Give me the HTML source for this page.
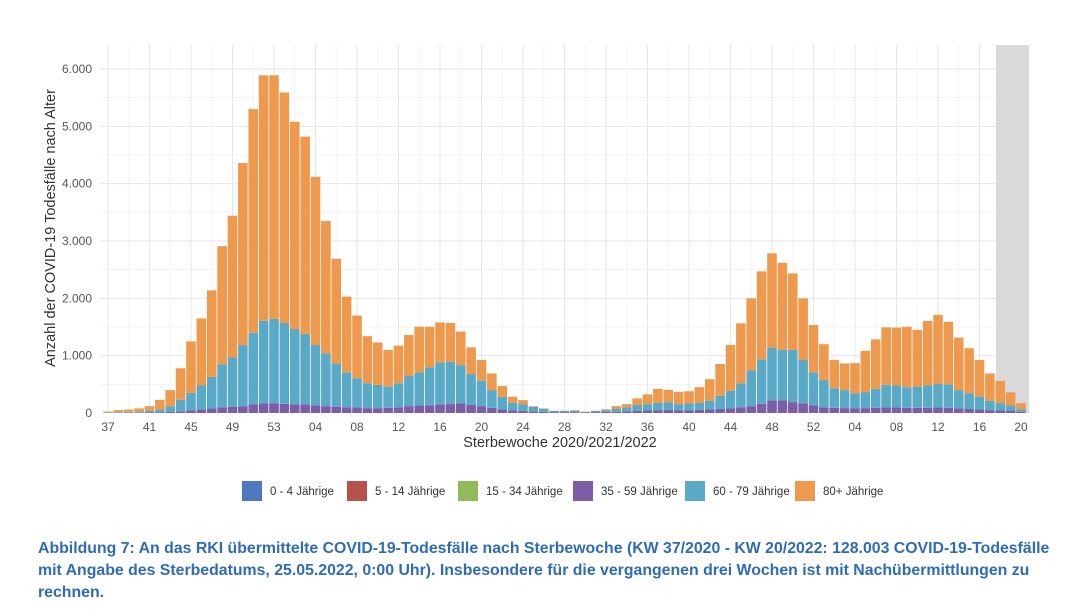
<!DOCTYPE html>
<html><head><meta charset="utf-8">
<style>
body{margin:0;background:#fff;width:1089px;height:614px;overflow:hidden;font-family:"Liberation Sans",sans-serif;}
#cap{position:absolute;left:38px;top:538px;width:1018px;color:#2F6CB5;font-weight:bold;font-size:15.85px;line-height:22px;}
</style></head><body>
<svg id="chart" width="1089" height="530" style="position:absolute;left:0;top:0">
</svg>
<div id="cap">Abbildung 7: An das RKI übermittelte COVID-19-Todesfälle nach Sterbewoche (KW 37/2020 - KW 20/2022: 128.003 COVID-19-Todesfälle mit Angabe des Sterbedatums, 25.05.2022, 0:00 Uhr). Insbesondere für die vergangenen drei Wochen ist mit Nachübermittlungen zu rechnen.</div>
<script>
const tickLabels=["37","41","45","49","53","04","08","12","16","20","24","28","32","36","40","44","48","52","04","08","12","16","20"];
const yTicks=[0,1000,2000,3000,4000,5000,6000];
const yTickLabels=["0","1.000","2.000","3.000","4.000","5.000","6.000"];
// cumulative totals per week (37/2020 .. 20/2022)
const totals=[25,50,60,80,120,230,400,780,1250,1650,2140,2910,3440,4360,5300,5890,5890,
5590,5080,4820,4120,3350,2690,2030,1700,1340,1230,1100,1175,1360,1505,1505,1580,1570,1420,1145,925,690,470,285,225,120,80,40,40,50,25,40,65,120,155,255,325,420,405,370,380,450,590,855,1185,1565,2000,2470,2785,2620,2435,2000,1535,
1200,925,865,870,1085,1285,1495,1490,1505,1450,1605,1710,1590,1315,1130,925,690,560,360,170];
// cumulative up to top of 60-79
const blueTop=[10,15,20,25,40,60,120,230,350,480,630,850,970,1185,1400,1610,1645,
1570,1465,1380,1185,1040,865,710,605,520,490,460,520,645,710,795,885,890,835,680,565,400,285,180,155,110,70,35,35,40,20,35,50,70,100,140,155,175,190,155,165,175,215,300,390,520,740,935,1140,1100,1100,925,710,
575,430,400,345,365,420,490,480,450,460,480,505,500,400,345,285,210,173,130,65];
// cumulative up to top of 35-59
const purpleTop=[2,3,4,5,8,12,20,30,45,60,80,95,105,120,150,165,170,
160,150,150,130,120,110,100,95,85,85,90,100,120,130,135,150,155,165,140,120,90,60,45,40,25,20,15,15,15,12,15,18,22,28,40,45,50,55,50,50,55,60,70,80,100,120,160,220,220,190,170,130,
100,90,85,85,85,90,95,95,90,90,90,95,90,80,70,60,50,45,35,20];
const ages=["0 - 4 Jährige","5 - 14 Jährige","15 - 34 Jährige","35 - 59 Jährige","60 - 79 Jährige","80+ Jährige"];
const colors=["#4C79C0","#B5534B","#93BA5A","#7B5EA7","#5AAAC7","#EE9A4E"];

const NS="http://www.w3.org/2000/svg";
const svg=document.getElementById('chart');
function mk(t,a,p){const e=document.createElementNS(NS,t);for(const k in a)e.setAttribute(k,a[k]);(p||svg).appendChild(e);return e;}
const x0=108,step=10.375,yBase=413,yScale=344/6000;
const X=i=>x0+i*step;
const Y=v=>yBase-v*yScale;
const grid=mk('g',{});


for(let v=500;v<=6250;v+=500){mk('line',{x1:100,x2:1029,y1:Y(v),y2:Y(v),stroke:v%1000?'#f3f3f3':'#e6e6e6','stroke-width':1},grid);}
for(let i=0;i<totals.length;i+=2){mk('line',{x1:X(i),x2:X(i),y1:45,y2:413,stroke:i%4?'#f3f3f3':'#e6e6e6'},grid);}
const shade=mk('rect',{x:996,y:45,width:33,height:368,fill:'#d9d9d9'});


const bars=mk('g',{});


for(let i=0;i<totals.length;i++){
  const segs=[[0,purpleTop[i],3],[purpleTop[i],blueTop[i],4],[blueTop[i],totals[i],5]];
  for(const [a,b,c] of segs){
    const r=mk('rect',{x:X(i)-4.8,width:9.6,y:Y(b),height:Math.max(0,Y(a)-Y(b)),fill:colors[c]},bars);
    
    
  }
}
yTicks.forEach((v,k)=>{const t=mk('text',{x:92,y:Y(v)+4,'text-anchor':'end','font-size':12,fill:'#555'});t.textContent=yTickLabels[k];

});
tickLabels.forEach((s,k)=>{const t=mk('text',{x:X(k*4),y:431,'text-anchor':'middle','font-size':12,fill:'#555'});t.textContent=s;

});
const xt=mk('text',{x:560,y:447,'text-anchor':'middle','font-size':14.5,fill:'#333'});xt.textContent='Sterbewoche 2020/2021/2022';


const yt=mk('text',{x:0,y:0,'text-anchor':'middle','font-size':14.5,fill:'#333',transform:'translate(55,228) rotate(-90)'});yt.textContent='Anzahl der COVID-19 Todesfälle nach Alter';


const lx=[242,347,458,573,685,795];
ages.forEach((a,k)=>{
  const g=mk('g',{});
  
  
  mk('rect',{x:lx[k],y:481,width:20,height:20,fill:colors[k]},g);
  const t=mk('text',{x:lx[k]+28,y:495,'font-size':11.5,fill:'#333'},g);t.textContent=a;
});
</script>
</body></html>
